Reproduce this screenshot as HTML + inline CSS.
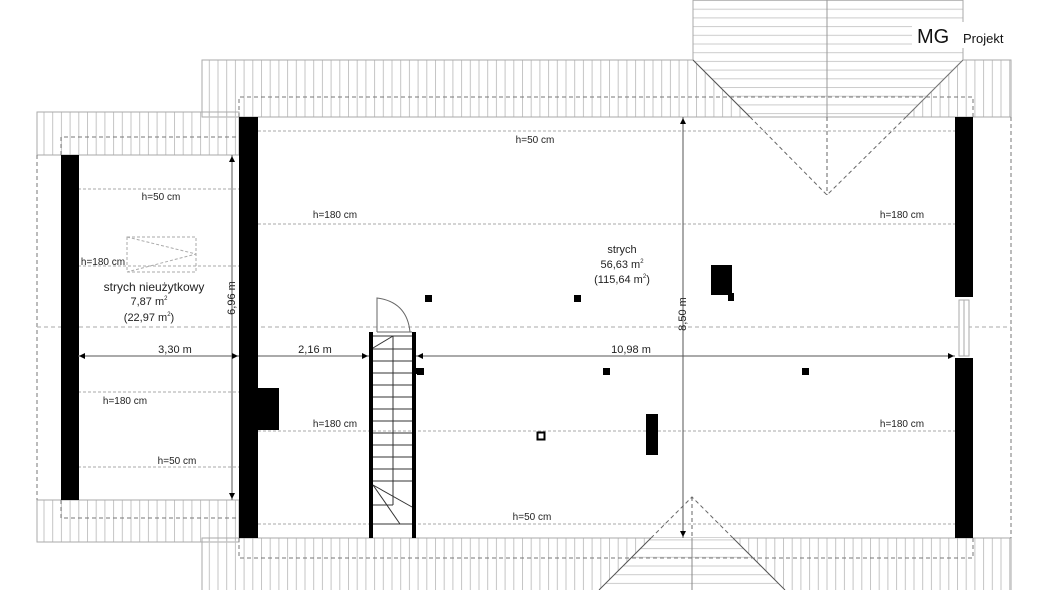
<!DOCTYPE html>
<html><head><meta charset="utf-8"><style>
html,body{margin:0;padding:0;background:#fff;width:1060px;height:590px;overflow:hidden}
svg text{font-family:"Liberation Sans",sans-serif;fill:#222}
</style></head><body>
<svg width="1060" height="590" viewBox="0 0 1060 590" xmlns="http://www.w3.org/2000/svg">
<defs>
<pattern id="vh" width="8.7" height="10" patternUnits="userSpaceOnUse"><line x1="0.5" y1="0" x2="0.5" y2="10" stroke="#c4c4c4" stroke-width="1"/></pattern>
<pattern id="hh" width="10" height="8.7" patternUnits="userSpaceOnUse"><line x1="0" y1="0.5" x2="10" y2="0.5" stroke="#ccc" stroke-width="1"/></pattern>
</defs>
<rect x="202" y="60" width="809" height="57" fill="url(#vh)" stroke="#aaa"/>
<rect x="37" y="112" width="202" height="43" fill="url(#vh)" stroke="#aaa"/>
<rect x="37" y="500" width="202" height="42" fill="url(#vh)" stroke="#aaa"/>
<rect x="202" y="538" width="809" height="60" fill="url(#vh)" stroke="#aaa"/>
<polygon points="693,0 963,0 963,60 906,117 750,117 693,60" fill="#fff"/>
<polygon points="693,0 963,0 963,60 906,117 750,117 693,60" fill="url(#hh)" stroke="#aaa"/>
<line x1="827" y1="0" x2="827" y2="117" stroke="#999"/>
<line x1="693" y1="60" x2="750" y2="117" stroke="#555"/>
<line x1="963" y1="60" x2="906" y2="117" stroke="#777"/>
<g stroke="#666" stroke-dasharray="4,3" fill="none">
<polyline points="750,117 827,195 906,117"/>
<line x1="827" y1="117" x2="827" y2="195"/>
</g>
<polygon points="651,538 733,538 785,590 599,590" fill="#fff"/>
<polygon points="651,538 733,538 785,590 599,590" fill="url(#hh)"/>
<line x1="651" y1="538" x2="599" y2="590" stroke="#555"/>
<line x1="733" y1="538" x2="785" y2="590" stroke="#555"/>
<line x1="692" y1="538" x2="692" y2="590" stroke="#888"/>
<g stroke="#666" stroke-dasharray="4,3" fill="none">
<polyline points="651,538 692,497 733,538"/>
<line x1="692" y1="497" x2="692" y2="538"/>
</g>
<g stroke="#777" stroke-dasharray="4,3" fill="none" stroke-width="1">
<polyline points="239,117 239,97 973,97 973,117"/>
<polyline points="239,538 239,558 973,558 973,538"/>
<polyline points="61,155 61,137 239,137"/>
<polyline points="61,500 61,518 239,518"/>
<line x1="37" y1="155" x2="37" y2="500"/>
<line x1="1011" y1="117" x2="1011" y2="538"/>
<line x1="37" y1="327" x2="1011" y2="327" stroke="#bbb" stroke-width="1.3"/>
</g>
<g stroke="#aaa" stroke-dasharray="3,2" fill="none">
<line x1="258" y1="131" x2="955" y2="131"/>
<line x1="258" y1="224" x2="955" y2="224"/>
<line x1="258" y1="431" x2="955" y2="431"/>
<line x1="258" y1="524" x2="955" y2="524"/>
<line x1="78" y1="189" x2="239" y2="189"/>
<line x1="78" y1="266" x2="239" y2="266"/>
<line x1="78" y1="392" x2="239" y2="392"/>
<line x1="78" y1="467" x2="239" y2="467"/>
<rect x="127" y="237" width="69" height="35"/>
<polyline points="127,237 196,254 127,272"/>
</g>
<g fill="#000">
<rect x="61" y="155" width="18" height="345"/>
<rect x="239" y="117" width="19" height="421"/>
<rect x="258" y="388" width="21" height="42"/>
<rect x="955" y="117" width="18" height="180"/>
<rect x="955" y="358" width="18" height="180"/>
<rect x="711" y="265" width="21" height="30"/>
<rect x="728" y="293" width="6" height="8"/>
<rect x="425" y="295" width="7" height="7"/>
<rect x="574" y="295" width="7" height="7"/>
<rect x="417" y="368" width="7" height="7"/>
<rect x="603" y="368" width="7" height="7"/>
<rect x="802" y="368" width="7" height="7"/>
<rect x="646" y="414" width="12" height="41"/>
<rect x="369" y="332" width="4" height="206"/>
<rect x="412" y="332" width="4" height="206"/>
<rect x="416" y="368" width="6" height="6"/>
</g>
<rect x="537.5" y="432.5" width="7" height="7" fill="#fff" stroke="#000" stroke-width="2"/>
<rect x="959" y="300" width="10" height="56" fill="#fff" stroke="#aaa"/>
<line x1="964" y1="300" x2="964" y2="356" stroke="#aaa"/>
<g stroke="#333" stroke-width="1" fill="none">
<line x1="373" y1="336" x2="412" y2="336"/>
<line x1="393" y1="336" x2="393" y2="505"/>
<line x1="373" y1="505" x2="393" y2="505"/>
<line x1="373" y1="348" x2="393" y2="336"/>
<line x1="373" y1="485" x2="412" y2="507"/>
<line x1="373" y1="485" x2="400" y2="524"/>
<path d="M373,349H412M373,361H412M373,373H412M373,385H412M373,397H412M373,409H412M373,421H412M373,433H412M373,445H412M373,457H412M373,469H412M373,481H412M393,524H412M373,524H393"/>
<path d="M377,332V298 Q407,302 410,332" stroke="#666"/>
<line x1="377" y1="332" x2="412" y2="332" stroke="#666"/>
</g>
<g stroke="#555" stroke-width="1" fill="none">
<line x1="78" y1="356" x2="239" y2="356"/>
<line x1="258" y1="356" x2="369" y2="356"/>
<line x1="416" y1="356" x2="955" y2="356"/>
<line x1="232" y1="155" x2="232" y2="500"/>
<line x1="683" y1="117" x2="683" y2="538"/>
</g>
<g fill="#000">
<polygon points="79,356 85,353 85,359"/><polygon points="238,356 232,353 232,359"/>
<polygon points="368,356 362,353 362,359"/><polygon points="417,356 423,353 423,359"/>
<polygon points="954,356 948,353 948,359"/>
<polygon points="232,156 229,162 235,162"/><polygon points="232,499 229,493 235,493"/>
<polygon points="683,118 680,124 686,124"/><polygon points="683,537 680,531 686,531"/>
</g>
<g font-size="10" text-anchor="middle">
<text x="161" y="200">h=50 cm</text>
<text x="103" y="265">h=180 cm</text>
<text x="125" y="404">h=180 cm</text>
<text x="177" y="464">h=50 cm</text>
<text x="535" y="143">h=50 cm</text>
<text x="335" y="218">h=180 cm</text>
<text x="902" y="218">h=180 cm</text>
<text x="335" y="427">h=180 cm</text>
<text x="902" y="427">h=180 cm</text>
<text x="532" y="520">h=50 cm</text>
</g>
<g font-size="11" text-anchor="middle">
<text x="175" y="353">3,30 m</text>
<text x="315" y="353">2,16 m</text>
<text x="631" y="353">10,98 m</text>
<text transform="translate(235,298) rotate(-90)">6,96 m</text>
<text transform="translate(686,314) rotate(-90)">8,50 m</text>
<text x="154" y="291" font-size="12">strych nieużytkowy</text>
<text x="149" y="305" font-size="11">7,87 m<tspan font-size="6" dy="-5">2</tspan></text>
<text x="149" y="321" font-size="11">(22,97 m<tspan font-size="6" dy="-5">2</tspan><tspan dy="5">)</tspan></text>
<text x="622" y="253" font-size="11">strych</text>
<text x="622" y="268" font-size="11">56,63 m<tspan font-size="6" dy="-5">2</tspan></text>
<text x="622" y="283" font-size="11">(115,64 m<tspan font-size="6" dy="-5">2</tspan><tspan dy="5">)</tspan></text>
</g>
<rect x="912" y="22" width="112" height="26" fill="#fff"/>
<text x="917" y="43" font-size="20" style="fill:#111">MG</text>
<text x="963" y="43" font-size="13" style="fill:#111">Projekt</text>
</svg>
</body></html>
